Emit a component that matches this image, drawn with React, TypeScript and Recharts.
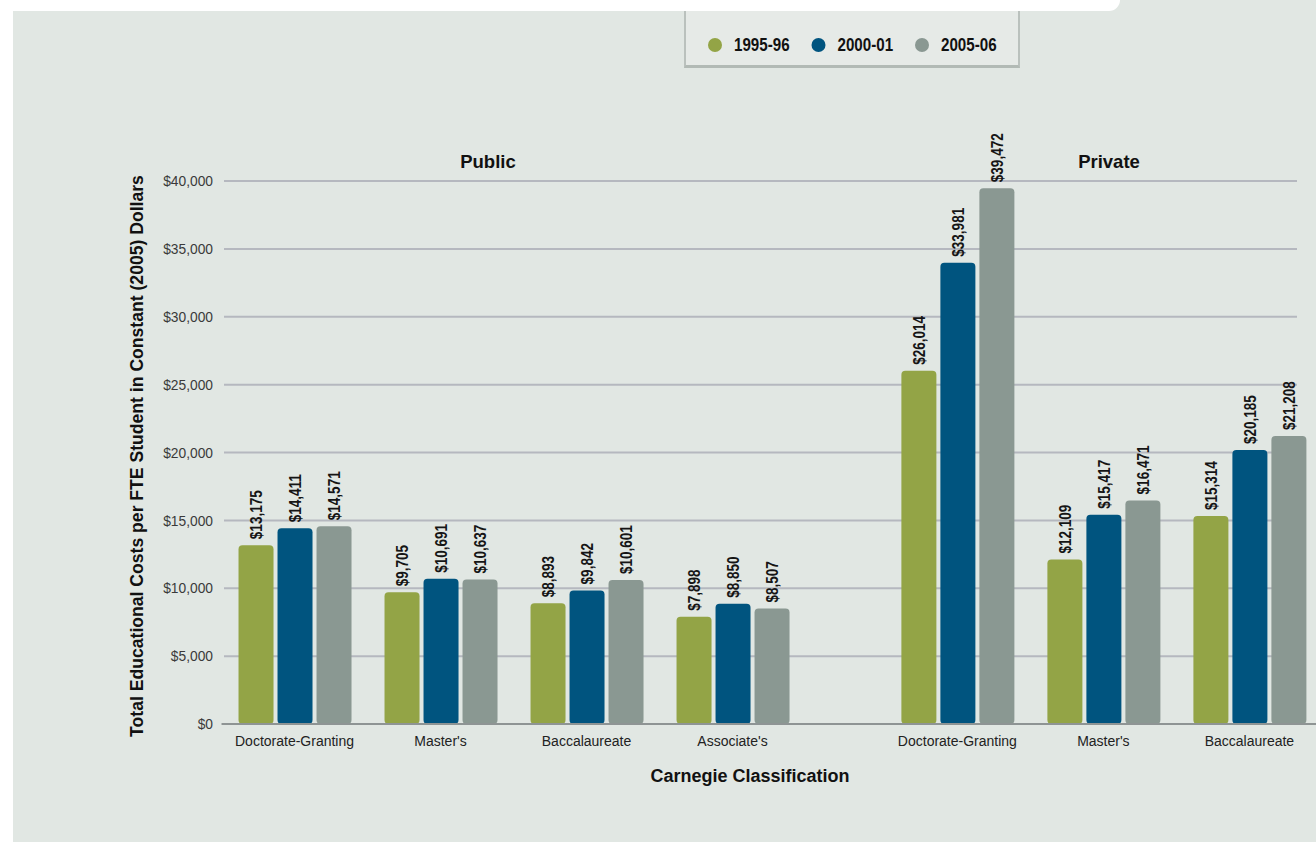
import React from 'react';
import {
  BarChart,
  Bar,
  XAxis,
  YAxis,
  CartesianGrid,
  LabelList,
  ReferenceLine,
  Legend,
} from 'recharts';

// ---------------- data ----------------
const sectors = ['Public', 'Public', 'Public', 'Public', 'Private', 'Private', 'Private'];
const categories = [
  'Doctorate-Granting',
  "Master's",
  'Baccalaureate',
  "Associate's",
  'Doctorate-Granting',
  "Master's",
  'Baccalaureate',
];
const seriesNames = ['1995-96', '2000-01', '2005-06'];
const values1995 = [13175, 9705, 8893, 7898, 26014, 12109, 15314];
const values2000 = [14411, 10691, 9842, 8850, 33981, 15417, 20185];
const values2005 = [14571, 10637, 10601, 8507, 39472, 16471, 21208];
const yTicks = [0, 5000, 10000, 15000, 20000, 25000, 30000, 35000, 40000];
const sectorTitles = ['Public', 'Private'];
const yTitle = 'Total Educational Costs per FTE Student in Constant (2005) Dollars';
const xTitle = 'Carnegie Classification';

// ---------------- layout / style ----------------
const W = 1316;
const H = 842;
const SECTOR_GAP = 0.54; // extra space (in category units) between Public and Private
const COLORS = ['#93A446', '#00547F', '#8A9892'];
const BG = '#E1E7E3';
const FONT = "'Liberation Sans', Arial, sans-serif";
const NARROW = 0.82;

const data = categories.map((c, i) => ({
  pos: i + (sectors[i] === 'Private' ? SECTOR_GAP : 0),
  category: c,
  v1995: values1995[i],
  v2000: values2000[i],
  v2005: values2005[i],
}));

const fmt = (v: number) => '$' + Number(v).toLocaleString('en-US');

const catLabel = (v: number) => {
  const d = data.find((e) => Math.abs(e.pos - v) < 1e-6);
  return d ? d.category : '';
};

const ValueLabel = (props: any) => {
  const { x, y, width, value } = props;
  const cx = Number(x) + Number(width) / 2;
  const ty = Number(y) - 6;
  return (
    <text
      x={0}
      y={0}
      transform={`translate(${cx}, ${ty}) rotate(-90) scale(${NARROW}, 1)`}
      textAnchor="start"
      dominantBaseline="central"
      fontFamily={FONT}
      fontSize={16.5}
      fontWeight="bold"
      fill="#151515"
    >
      {fmt(value)}
    </text>
  );
};

const YTick = (props: any) => {
  const { x, y, payload } = props;
  return (
    <text
      x={0}
      y={0}
      transform={`translate(${x}, ${y}) scale(0.92, 1)`}
      textAnchor="end"
      dominantBaseline="central"
      fontFamily={FONT}
      fontSize={15}
      fill="#3A3A3A"
    >
      {fmt(payload.value)}
    </text>
  );
};

const LegendContent = (props: any) => {
  const payload = props.payload || [];
  return (
    <div
      style={{
        position: 'relative',
        width: 336,
        height: 68,
        boxSizing: 'border-box',
        background: '#E6EAE7',
        borderLeft: '2px solid #BAC1BD',
        borderRight: '2px solid #BAC1BD',
        borderBottom: '3px solid #B2BAB5',
      }}
    >
      <svg width={336} height={68} style={{ position: 'absolute', left: -2, top: 0 }}>
        {payload.map((p: any, i: number) => (
          <g key={i} transform={`translate(${31 + i * 103.5}, 45)`}>
            <circle cx={0} cy={0} r={7} fill={p.color} />
            <text
              x={0}
              y={0}
              transform={`translate(19, 0) scale(${NARROW}, 1)`}
              dominantBaseline="central"
              fontFamily={FONT}
              fontWeight="bold"
              fontSize={18.5}
              fill="#111"
            >
              {p.value}
            </text>
          </g>
        ))}
      </svg>
    </div>
  );
};

export default function App() {
  return (
    <div style={{ position: 'absolute', left: 0, top: 0, width: W, height: H, background: '#fff', overflow: 'hidden' }}>
      <div style={{ position: 'absolute', left: 13, top: 0, width: W - 13, height: H, background: BG }} />
      <div style={{ position: 'absolute', left: 0, top: 0 }}>
        <BarChart
          width={W}
          height={H}
          data={data}
          margin={{ top: 181, right: 19, bottom: 88, left: 144 }}
          barGap={4}
        >
          <CartesianGrid vertical={false} stroke="#B5B8BF" strokeWidth={2} />
          <XAxis
            dataKey="pos"
            type="number"
            domain={[-0.483, 6.866]}
            ticks={data.map((d) => d.pos)}
            interval={0}
            tickFormatter={catLabel}
            axisLine={false}
            tickLine={false}
            tickSize={6}
            tickMargin={6}
            height={30}
            tick={{ fontFamily: FONT, fontSize: 14, fill: '#222' }}
          />
          <YAxis
            type="number"
            domain={[0, 40000]}
            ticks={yTicks}
            interval={0}
            axisLine={false}
            tickLine={false}
            tickSize={5}
            tickMargin={6}
            width={80}
            tick={<YTick />}
          />
          <ReferenceLine
            segment={[
              { x: -0.5, y: 0 },
              { x: 7.0, y: 0 },
            ]}
            ifOverflow="visible"
            stroke="#8E9494"
            strokeWidth={2}
          />
          <Legend
            layout="horizontal"
            verticalAlign="middle"
            align="center"
            content={<LegendContent />}
            wrapperStyle={{ position: 'absolute', left: 684, top: 0, width: 336, height: 68 }}
          />
          <Bar dataKey="v1995" name={seriesNames[0]} fill={COLORS[0]} barSize={35} radius={4} isAnimationActive={false}>
            <LabelList dataKey="v1995" content={<ValueLabel />} />
          </Bar>
          <Bar dataKey="v2000" name={seriesNames[1]} fill={COLORS[1]} barSize={35} radius={4} isAnimationActive={false}>
            <LabelList dataKey="v2000" content={<ValueLabel />} />
          </Bar>
          <Bar dataKey="v2005" name={seriesNames[2]} fill={COLORS[2]} barSize={35} radius={4} isAnimationActive={false}>
            <LabelList dataKey="v2005" content={<ValueLabel />} />
          </Bar>
        </BarChart>
      </div>
      {/* white header band (partially cropped in the source) */}
      <div
        style={{
          position: 'absolute',
          left: 13,
          top: 0,
          width: 1107,
          height: 11,
          background: '#fff',
          borderBottomRightRadius: 14,
        }}
      />
      <svg width={W} height={H} style={{ position: 'absolute', left: 0, top: 0, pointerEvents: 'none' }}>
        <text x={488} y={168} textAnchor="middle" fontFamily={FONT} fontWeight="bold" fontSize={18.5} fill="#111">
          {sectorTitles[0]}
        </text>
        <text x={1109} y={168} textAnchor="middle" fontFamily={FONT} fontWeight="bold" fontSize={18.5} fill="#111">
          {sectorTitles[1]}
        </text>
        <text
          x={137}
          y={456}
          transform="rotate(-90, 137, 456)"
          textAnchor="middle"
          dominantBaseline="central"
          fontFamily={FONT}
          fontWeight="bold"
          fontSize={17.6}
          fill="#111"
        >
          {yTitle}
        </text>
        <text x={750} y={782} textAnchor="middle" fontFamily={FONT} fontWeight="bold" fontSize={18} fill="#111">
          {xTitle}
        </text>
      </svg>
    </div>
  );
}
